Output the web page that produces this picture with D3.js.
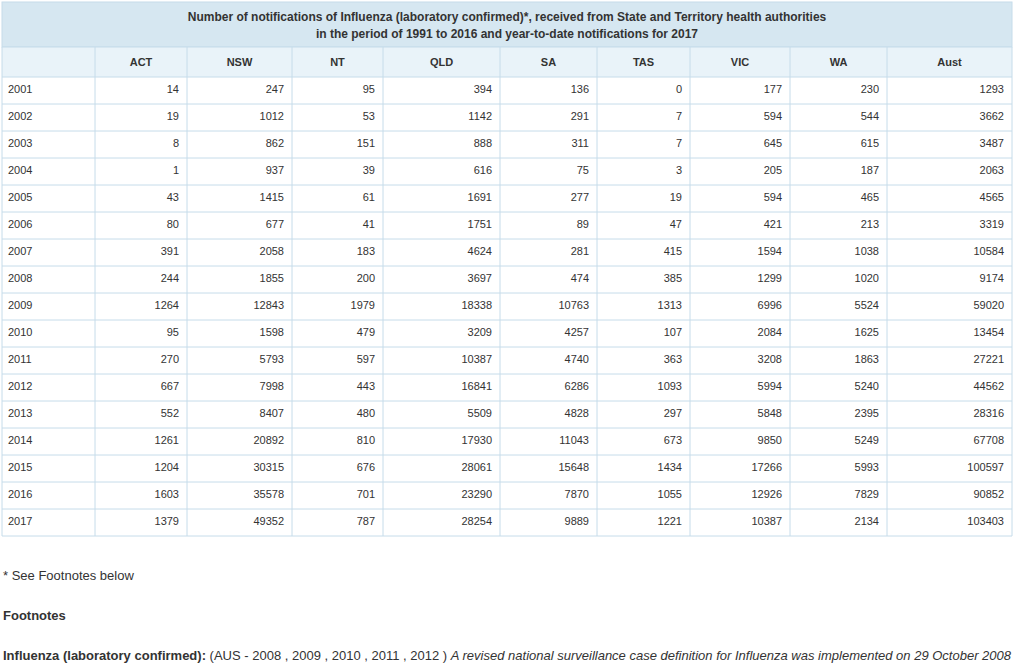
<!DOCTYPE html>
<html>
<head>
<meta charset="utf-8">
<script src="https://cdn.jsdelivr.net/npm/d3@7"></script>
<style>
  body { margin: 0; background: #fff; font-family: "Liberation Sans", Arial, sans-serif; }
</style>
</head>
<body>
<div id="chart"></div>
<script>
// table data
var years = [2001, 2002, 2003, 2004, 2005, 2006, 2007, 2008, 2009, 2010, 2011, 2012, 2013, 2014, 2015, 2016, 2017];
var states = ["ACT", "NSW", "NT", "QLD", "SA", "TAS", "VIC", "WA", "Aust"];
var ACT  = [14, 19, 8, 1, 43, 80, 391, 244, 1264, 95, 270, 667, 552, 1261, 1204, 1603, 1379];
var NSW  = [247, 1012, 862, 937, 1415, 677, 2058, 1855, 12843, 1598, 5793, 7998, 8407, 20892, 30315, 35578, 49352];
var NT   = [95, 53, 151, 39, 61, 41, 183, 200, 1979, 479, 597, 443, 480, 810, 676, 701, 787];
var QLD  = [394, 1142, 888, 616, 1691, 1751, 4624, 3697, 18338, 3209, 10387, 16841, 5509, 17930, 28061, 23290, 28254];
var SA   = [136, 291, 311, 75, 277, 89, 281, 474, 10763, 4257, 4740, 6286, 4828, 11043, 15648, 7870, 9889];
var TAS  = [0, 7, 7, 3, 19, 47, 415, 385, 1313, 107, 363, 1093, 297, 673, 1434, 1055, 1221];
var VIC  = [177, 594, 645, 205, 594, 421, 1594, 1299, 6996, 2084, 3208, 5994, 5848, 9850, 17266, 12926, 10387];
var WA   = [230, 544, 615, 187, 465, 213, 1038, 1020, 5524, 1625, 1863, 5240, 2395, 5249, 5993, 7829, 2134];
var Aust = [1293, 3662, 3487, 2063, 4565, 3319, 10584, 9174, 59020, 13454, 27221, 44562, 28316, 67708, 100597, 90852, 103403];
var values = [ACT, NSW, NT, QLD, SA, TAS, VIC, WA, Aust];

var svgWidth = 1014, svgHeight = 666;
var border = "#c6dcea";

// column edges (first is the year column)
var colEdges = [2, 95, 187, 292, 383, 500, 597, 690, 790, 887, 1012];
var tableTop = 2, titleH = 45, headH = 30, rowH = 27;

var yScale = d3.scaleBand()
  .domain(years)
  .range([tableTop + titleH + headH, tableTop + titleH + headH + rowH * years.length]);

var svg = d3.select("#chart").append("svg")
  .attr("width", svgWidth).attr("height", svgHeight);

// title
svg.append("rect").attr("x", colEdges[0]).attr("y", tableTop)
  .attr("width", colEdges[10] - colEdges[0]).attr("height", titleH)
  .attr("fill", "#d6e7f1").attr("stroke", border);
var title = svg.append("text").attr("x", (colEdges[0] + colEdges[10]) / 2)
  .attr("text-anchor", "middle").attr("font-size", 12).attr("font-weight", "bold").attr("fill", "#333");
title.append("tspan").attr("x", (colEdges[0] + colEdges[10]) / 2).attr("y", tableTop + 19)
  .text("Number of notifications of Influenza (laboratory confirmed)*, received from State and Territory health authorities");
title.append("tspan").attr("x", (colEdges[0] + colEdges[10]) / 2).attr("y", tableTop + 36)
  .text("in the period of 1991 to 2016 and year-to-date notifications for 2017");

// header row
var headY = tableTop + titleH;
svg.append("rect").attr("x", colEdges[0]).attr("y", headY)
  .attr("width", colEdges[10] - colEdges[0]).attr("height", headH)
  .attr("fill", "#e9f3f9");
svg.selectAll(".head").data(states).enter().append("text")
  .attr("x", (d, i) => (colEdges[i + 1] + colEdges[i + 2]) / 2)
  .attr("y", headY + 19)
  .attr("text-anchor", "middle").attr("font-size", 11).attr("font-weight", "bold").attr("fill", "#333")
  .text(d => d);

// body rows
var rows = svg.selectAll(".row").data(years).enter().append("g")
  .attr("transform", d => `translate(0, ${yScale(d)})`);
rows.append("text").attr("x", colEdges[0] + 6).attr("y", 16)
  .attr("font-size", 11).attr("fill", "#333").text(d => d);
states.forEach(function(s, j) {
  rows.append("text")
    .attr("x", colEdges[j + 2] - 8).attr("y", 16)
    .attr("text-anchor", "end").attr("font-size", 11).attr("fill", "#333")
    .text((d, i) => values[j][i]);
});

// grid lines
var bottom = yScale.range()[1];
svg.selectAll(".hline").data(d3.range(years.length + 1)).enter().append("line")
  .attr("x1", colEdges[0]).attr("x2", colEdges[10])
  .attr("y1", d => headY + headH + d * rowH).attr("y2", d => headY + headH + d * rowH)
  .attr("stroke", border);
svg.append("line").attr("x1", colEdges[0]).attr("x2", colEdges[10])
  .attr("y1", headY).attr("y2", headY).attr("stroke", border);
svg.selectAll(".vline").data(colEdges).enter().append("line")
  .attr("x1", d => d).attr("x2", d => d)
  .attr("y1", headY).attr("y2", bottom)
  .attr("stroke", border);

// footnotes
svg.append("text").attr("x", 3).attr("y", 580).attr("font-size", 13).attr("fill", "#333")
  .text("* See Footnotes below");
svg.append("text").attr("x", 3).attr("y", 620).attr("font-size", 13).attr("font-weight", "bold").attr("fill", "#333")
  .text("Footnotes");
var fn = svg.append("text").attr("x", 3).attr("y", 660).attr("font-size", 13).attr("fill", "#333");
fn.append("tspan").attr("font-weight", "bold").text("Influenza (laboratory confirmed): ");
fn.append("tspan").text("(AUS - 2008 , 2009 , 2010 , 2011 , 2012 ) ");
fn.append("tspan").attr("font-style", "italic")
  .text("A revised national surveillance case definition for Influenza was implemented on 29 October 2008");
</script>
</body>
</html>
